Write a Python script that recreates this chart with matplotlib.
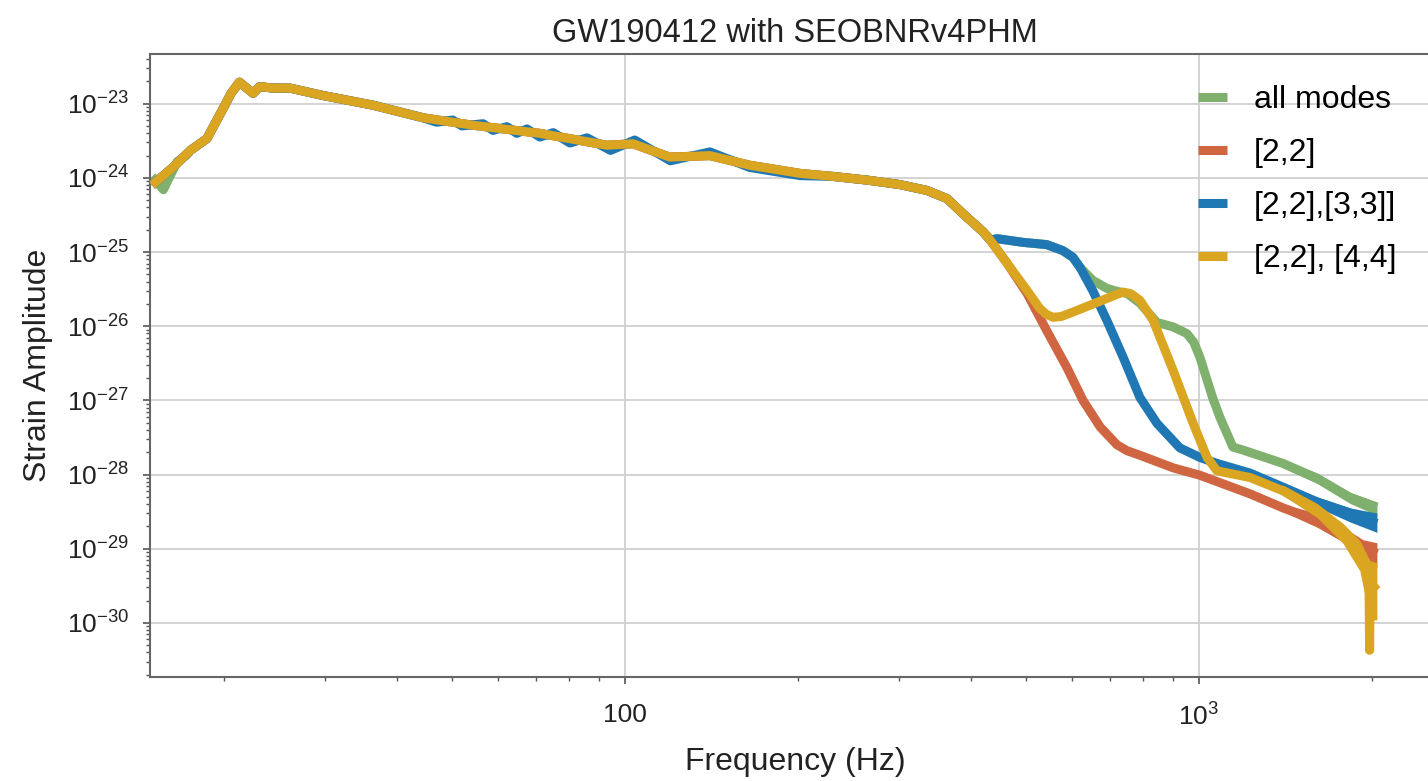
import matplotlib
matplotlib.use("Agg")
import matplotlib.pyplot as plt
from matplotlib.ticker import LogLocator, NullFormatter, FixedLocator
import numpy as np

# frequencies in Hz, amplitudes given as log10(strain)
f_inspiral = [15.0, 16.3, 17.5, 18.7, 20.0, 20.6, 21.3, 22.5, 23.1, 24.4, 26.1, 29.8,
              36.4, 44.5, 54.3, 71.1, 93.0, 103.3, 119.7, 140.6, 165, 202, 230, 264,
              301, 336, 364, 394, 421, 433]
h_inspiral = [-24.10, -23.86, -23.63, -23.47, -23.05, -22.86, -22.71, -22.86, -22.77,
              -22.79, -22.79, -22.89, -23.02, -23.19, -23.29, -23.40, -23.56, -23.54,
              -23.72, -23.70, -23.83, -23.94, -23.98, -24.03, -24.09, -24.17, -24.28,
              -24.53, -24.73, -24.84]

# low-frequency ripple of the full waveform
f_all_start = [15.0, 15.7, 16.6, 17.2]
h_all_start = [-23.98, -24.16, -23.78, -23.70]

# ripple of the [2,2]+[3,3] waveform during the inspiral
f_33_ripple = [47.0, 50.1, 52.0, 56.6, 58.9, 62.3, 64.8, 67.5, 71.1, 75.0, 80.2, 85.9,
               94.4, 104, 120, 140.6, 165, 202]
h_33_ripple = [-23.25, -23.22, -23.30, -23.27, -23.36, -23.31, -23.40, -23.34, -23.45,
               -23.39, -23.53, -23.46, -23.63, -23.49, -23.77, -23.65, -23.86, -23.97]

# merger / ringdown part of each waveform
f_all_tail = [445, 494, 543, 579, 603, 621, 653, 691, 720, 750, 789, 845, 902, 953, 980,
              1004, 1056, 1088, 1146, 1193, 1401, 1606, 1834, 2042]
h_all_tail = [-24.82, -24.87, -24.90, -24.98, -25.07, -25.21, -25.38, -25.49, -25.53,
              -25.56, -25.69, -25.95, -26.01, -26.10, -26.22, -26.42, -26.96, -27.23,
              -27.63, -27.67, -27.85, -28.05, -28.31, -28.44]

f_22_tail = [463, 502, 543, 589, 628, 673, 720, 750, 789, 902, 1004, 1227, 1401, 1606,
             1783, 1932, 2042]
h_22_tail = [-25.15, -25.56, -26.06, -26.56, -27.00, -27.36, -27.60, -27.68, -27.74,
             -27.91, -28.01, -28.26, -28.45, -28.62, -28.80, -28.98, -29.07]

f_33_tail = [445, 494, 543, 579, 603, 621, 653, 691, 738, 789, 845, 926, 1004, 1075,
             1227, 1401, 1606, 1834, 2042]
h_33_tail = [-24.82, -24.87, -24.90, -24.98, -25.07, -25.21, -25.52, -25.92, -26.42,
             -26.96, -27.31, -27.64, -27.77, -27.85, -27.98, -28.17, -28.37, -28.52,
             -28.66]

f_44_tail = [463, 502, 528, 542, 557, 575, 603, 664, 715, 738, 760, 789, 832, 902, 977,
             1033, 1075, 1227, 1401, 1606, 1783, 1907, 1978, 1983, 1988, 2042]
h_44_tail = [-25.15, -25.52, -25.76, -25.84, -25.88, -25.87, -25.81, -25.68, -25.58,
             -25.54, -25.56, -25.65, -25.92, -26.60, -27.31, -27.77, -27.95, -28.04,
             -28.22, -28.49, -28.80, -29.07, -29.35, -30.37, -29.45, -29.56]

# spread of the fast oscillation near the Nyquist end (upper, lower)
f_all_env = [1400, 1606, 1834, 2042]
all_env_hi = [-27.80, -27.98, -28.24, -28.37]
all_env_lo = [-27.91, -28.12, -28.39, -28.55]

f_33_env = [1400, 1606, 1834, 2042]
env_33_hi = [-28.11, -28.30, -28.45, -28.52]
env_33_lo = [-28.23, -28.44, -28.64, -28.78]

f_22_env = [1400, 1606, 1783, 1932, 2042]
env_22_hi = [-28.40, -28.52, -28.71, -28.88, -28.92]
env_22_lo = [-28.50, -28.71, -28.91, -29.11, -29.25]

f_44_env = [1400, 1606, 1783, 1907, 1985, 2042]
env_44_hi = [-28.14, -28.39, -28.66, -28.89, -29.16, -29.19]
env_44_lo = [-28.28, -28.58, -28.93, -29.30, -29.96, -29.96]

labels = ["all modes", "[2,2]", "[2,2],[3,3]]", "[2,2], [4,4]"]
colors = ["#80b06e", "#cf6541", "#1f77b4", "#daa520"]
xtick_vals = [100, 1000]
xtick_labels = ["100", "$10^3$"]
ytick_vals = [1e-30, 1e-29, 1e-28, 1e-27, 1e-26, 1e-25, 1e-24, 1e-23]


def join(f_a, h_a, f_b, h_b):
    f = np.concatenate([f_a, f_b])
    h = np.concatenate([h_a, h_b])
    order = np.argsort(f, kind="stable")
    return f[order], h[order]


f_insp = np.array(f_inspiral)
h_insp = np.array(h_inspiral)

# full waveform: own ripple at the start
keep = f_insp > 17.3
f_all, h_all = join(f_all_start, h_all_start, f_insp[keep], h_insp[keep])
f_all, h_all = join(f_all, h_all, f_all_tail, h_all_tail)

f_22, h_22 = join(f_insp, h_insp, f_22_tail, h_22_tail)

keep = (f_insp < 46) | (f_insp > 210)
f_33, h_33 = join(f_insp[keep], h_insp[keep], f_33_ripple, h_33_ripple)
f_33, h_33 = join(f_33, h_33, f_33_tail, h_33_tail)

f_44, h_44 = join(f_insp, h_insp, f_44_tail, h_44_tail)

series = [
    (f_all, h_all, f_all_env, all_env_hi, all_env_lo),
    (f_22, h_22, f_22_env, env_22_hi, env_22_lo),
    (f_33, h_33, f_33_env, env_33_hi, env_33_lo),
    (f_44, h_44, f_44_env, env_44_hi, env_44_lo),
]

plt.rcParams["font.family"] = ["Liberation Sans", "DejaVu Sans"]
plt.rcParams["mathtext.fontset"] = "custom"
plt.rcParams["mathtext.rm"] = "Liberation Sans"
plt.rcParams["mathtext.it"] = "Liberation Sans:italic"
plt.rcParams["mathtext.bf"] = "Liberation Sans:bold"

fig = plt.figure(figsize=(14.28, 7.81), dpi=100)
ax = fig.add_axes([150 / 1428, 1 - 677 / 781, 1290 / 1428, 623 / 781])

for i, (f, h, fe, hi, lo) in enumerate(series):
    ax.fill_between(fe, 10.0 ** np.array(lo), 10.0 ** np.array(hi),
                    color=colors[i], lw=0, zorder=2 + i)
    ax.plot(f, 10.0 ** h, color=colors[i], lw=6.5, label=labels[i],
            solid_capstyle="butt", solid_joinstyle="round", zorder=2 + i)

ax.set_xscale("log")
ax.set_yscale("log")
ax.set_xlim(14.88, 2630)
ax.set_ylim(10 ** -30.73, 10 ** -22.33)

ax.set_xticks(xtick_vals)
ax.set_xticklabels(xtick_labels)
ax.xaxis.set_minor_locator(LogLocator(base=10, subs=np.arange(2, 10), numticks=50))
ax.xaxis.set_minor_formatter(NullFormatter())
ax.yaxis.set_major_locator(FixedLocator(ytick_vals))
ax.yaxis.set_minor_locator(LogLocator(base=10, subs=np.arange(2, 10), numticks=100))
ax.yaxis.set_minor_formatter(NullFormatter())

ax.grid(True, which="major", color="#d0d0d0", lw=1.3)
ax.set_axisbelow(True)
for side in ax.spines.values():
    side.set_color("#666666")
    side.set_linewidth(1.5)
ax.tick_params(which="major", direction="out", length=5, width=1.2, color="#555555",
               labelsize=19, labelcolor="#222222")
ax.tick_params(which="minor", direction="out", length=3, width=1.0, color="#555555")
ax.tick_params(axis="y", which="major", pad=10)
ax.tick_params(axis="x", which="major", pad=14)

ax.set_xlabel("Frequency (Hz)", fontsize=23, labelpad=12, color="#222222")
ax.set_ylabel("Strain Amplitude", fontsize=23, labelpad=10, color="#222222")
ax.set_title("GW190412 with SEOBNRv4PHM", fontsize=23.5, pad=9, color="#222222")

ax.legend(loc="upper right", bbox_to_anchor=(1409 / 1428, 1 - 72 / 781),
          bbox_transform=fig.transFigure, frameon=False, fontsize=23,
          handlelength=0.9, handletextpad=0.85, labelspacing=0.72, borderaxespad=0)

fig.savefig("out.png", dpi=100)
